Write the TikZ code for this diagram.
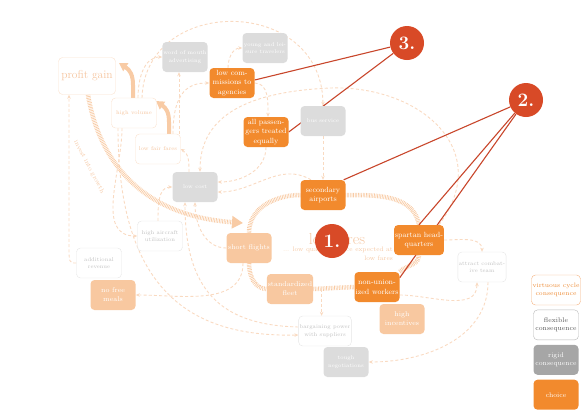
\documentclass[tikz,border=0pt]{standalone}
\usetikzlibrary{positioning,backgrounds,arrows.meta}
\definecolor{linkc}{HTML}{F9DAC1}
\definecolor{trackc}{HTML}{F8CBA5}
\definecolor{virtline}{HTML}{FBE2CE}
\definecolor{virttext}{HTML}{F6C6A0}
\definecolor{flexline}{HTML}{E6E6E6}
\definecolor{flextext}{HTML}{C2C2C2}
\definecolor{rigidfill}{HTML}{DCDCDC}
\definecolor{choiceor}{HTML}{F28A2D}
\definecolor{softor}{HTML}{F8C8A0}
\definecolor{markred}{HTML}{D84A27}
\definecolor{pointred}{HTML}{C8462B}
\definecolor{titlec}{HTML}{F5C8A4}
\definecolor{legvline}{HTML}{F5B27E}
\definecolor{legvtext}{HTML}{EE8B34}
\definecolor{legfline}{HTML}{B8B8B8}
\definecolor{legftext}{HTML}{555555}
\definecolor{legrfill}{HTML}{A6A6A6}

\begin{document}
\begin{tikzpicture}[x=1pt,y=-1pt,
	box/.style={rectangle, rounded corners=4pt, minimum width=45pt, minimum height=30pt, align=center, inner sep=1pt},
	virtue/.style={box, draw=virtline, fill=white, text=virttext, font=\fontsize{5.5}{7.5}\selectfont},
	flex/.style={box, draw=flexline, fill=white, text=flextext, font=\fontsize{5.5}{7.5}\selectfont},
	rigid/.style={box, fill=rigidfill, text=white, font=\fontsize{5.5}{7.5}\selectfont},
	choice/.style={box, fill=choiceor, text=white, font=\fontsize{7.5}{9.5}\selectfont},
	softchoice/.style={box, fill=softor, text=white, font=\fontsize{7}{9}\selectfont},
	link/.style={draw=linkc, line width=0.9pt, dash pattern=on 3pt off 2.2pt, -{Stealth[length=4pt,width=3.5pt]}},
	track/.style={draw=trackc, line width=4.5pt, dash pattern=on 0.7pt off 0.9pt},
	push/.style={draw=trackc, line width=4pt, -{Triangle[length=8pt,width=9pt]}},
	marker/.style={circle, fill=markred, text=white, minimum size=34pt, inner sep=0pt, font=\bfseries\fontsize{19}{19}\selectfont},
	pointer/.style={draw=pointred, line width=1.1pt}
]
\useasboundingbox (0,0) rectangle (585,413);

% left part
\node[virtue, minimum width=57pt, minimum height=37pt, font=\fontsize{11.5}{13}\selectfont] (profit) at (87,76) {profit gain};
\node[virtue] (volume) at (134,113) {high volume};
\node[virtue] (fares) at (158,149) {low fair fares};
\node[rigid] (mouth) at (185,57) {word of mouth\\advertising};
\node[rigid] (young) at (265,48) {young and lei-\\sure travelers};
\node[choice] (commission) at (232,83) {low com-\\missions to\\agencies};
\node[choice] (equal) at (266,132) {all passen-\\gers treated\\equally};
\node[rigid] (lowcost) at (195,187) {low cost};
\node[rigid] (bus) at (323,121) {bus service};
\node[flex] (utilization) at (160,236) {high aircraft\\utilization};
\node[flex] (revenue) at (99,263) {additional\\revenue};
\node[softchoice] (meals) at (113,295) {no free\\meals};

% the cycle
\node[choice] (secondary) at (323,195) {secondary\\airports};
\node[softchoice] (short) at (249,248) {short flights};
\node[softchoice] (fleet) at (290,289) {standardized\\fleet};
\node[choice] (union) at (377,287) {non-union-\\ized workers};
\node[choice] (spartan) at (419,240) {spartan head-\\quarters};
\node[softchoice] (incentives) at (402,319) {high\\incentives};
\node[flex] (combative) at (482,267) {attract combat-\\ive team};
\node[flex] (bargain) at (325,331) {bargaining power\\with suppliers};
\node[rigid] (tough) at (346,362) {tough\\negotiations};

\node[text=titlec, font=\fontsize{16}{16}\selectfont, inner sep=0pt] (lowfares) at (337,239) {low fares};
\node[text=titlec, font=\fontsize{6.5}{8.5}\selectfont, align=right, anchor=north east, inner sep=0pt] (quality) at (393,247) {... low quality service expected at\\low fares};
\node[text=titlec, font=\fontsize{6.5}{6.5}\selectfont, rotate=-62, inner sep=0pt] (invest) at (89,167) {invest into growth};

% legend
\node[box, draw=legvline, fill=white, text=legvtext, font=\fontsize{6.3}{8}\selectfont] (legvirtue) at (556,290) {virtuous cycle\\consequence};
\node[box, draw=legfline, fill=white, text=legftext, font=\fontsize{6.8}{8.5}\selectfont] (legflex) [below=4.5pt of legvirtue] {flexible\\consequence};
\node[box, fill=legrfill, text=white, font=\fontsize{6.8}{8.5}\selectfont] (legrigid) [below=4.5pt of legflex] {rigid\\consequence};
\node[box, fill=choiceor, text=white, font=\fontsize{6.8}{8.5}\selectfont] (legchoice) [below=4.5pt of legrigid] {choice};

% markers
\node[marker] (one) at (332,241) {1.};
\node[marker] (two) at (526,100) {2.};
\node[marker] (three) at (407,43) {3.};

\begin{scope}[on background layer]
	% dashed consequences
	\draw[link] ([xshift=4pt]volume.north) to[out=90,in=180] (mouth.west);
	\draw[link] ([xshift=8pt]volume.north) .. controls (145,-5) and (322,-5) .. (bus.north);
	\draw[link] ([xshift=15pt]fares.north) .. controls (173,90) and (190,83) .. (commission.west);
	\draw[link] ([xshift=21pt]fares.north) -- ([xshift=-6pt]mouth.south);
	\draw[link] ([xshift=-4pt]commission.north) to[out=90,in=180] (young.west);
	\draw[link] (commission.east) to[out=0,in=90] ([xshift=2pt]equal.north);
	\draw[link] (equal.south) to[out=-90,in=0] ([yshift=5pt]lowcost.east);
	\draw[link] ([xshift=-12pt]secondary.north) to[out=150,in=0] ([yshift=-5pt]lowcost.east);
	\draw[link] (bus.south) -- (secondary.north);
	\draw[link] ([xshift=20pt]spartan.north) .. controls (495,150) and (420,85) .. (330,88) .. controls (240,92) and (200,120) .. ([xshift=5pt]lowcost.north);
	\draw[link] ([xshift=-2pt]utilization.north) to[out=90,in=180] (lowcost.west);
	\draw[link] ([xshift=-6pt]lowcost.north) to[out=90,in=-30] (fares.east);
	\draw[link] (short.west) to[out=180,in=-90] (lowcost.south);
	\draw[link] ([yshift=4pt]bargain.west) .. controls (220,325) and (185,290) .. ([xshift=-10pt]lowcost.south);
	\draw[link] ([xshift=-16pt]volume.south) .. controls (118,300) and (200,337) .. ([yshift=-4pt]bargain.west);
	\draw[link] ([xshift=-12pt]volume.south) to[out=-90,in=180] (utilization.west);
	\draw[link] (revenue.west) .. controls (69,263) .. (69,245) -- ([xshift=-18pt]profit.south);
	\draw[link] ([xshift=-6pt]short.south) to[out=-90,in=0] (meals.east);
	\draw[link] ([yshift=-8pt]union.east) to[out=0,in=-90] ([xshift=-5pt]combative.south);
	\draw[link] (spartan.east) to[out=0,in=90] (combative.north);
	\draw[link] ([xshift=6pt]combative.south) to[out=-90,in=0] (tough.east);

	% the low fares cycle
	\draw[track] (secondary.west) to[out=180,in=90] (short.north);
	\draw[track] (short.south) to[out=-90,in=180] (fleet.west);
	\draw[track] (fleet.east) -- coordinate[pos=0.2] (fleetlink) (union.west);
	\draw[track] (union.north east) to[out=45,in=-90] (spartan.south);
	\draw[track] (spartan.north) to[out=100,in=0] (secondary.east);
	\draw[link] (fleetlink) -- (fleetlink |- bargain.north);

	% growth
	\draw[track, -{Triangle[length=11pt,width=12pt]}] ([xshift=1pt]profit.south) .. controls (97,150) and (132,215) .. (243,223);
	\draw[push] ([xshift=-1pt]volume.north) -- (133,85) .. controls (133,75) and (130,70) .. (119,63);
	\draw[push] ([xshift=11pt]fares.north) -- (169,122) .. controls (169,112) and (166,108) .. (156,101);

	% pointers
	\draw[pointer] (three) -- ([yshift=3pt]commission.east);
	\draw[pointer] (three) -- (equal.east);
	\draw[pointer] (two) -- ([xshift=-2pt]secondary.north east);
	\draw[pointer] (two) -- (spartan.north);
	\draw[pointer] (two) -- ([yshift=-6pt]union.north east);
\end{scope}
\end{tikzpicture}
\end{document}
